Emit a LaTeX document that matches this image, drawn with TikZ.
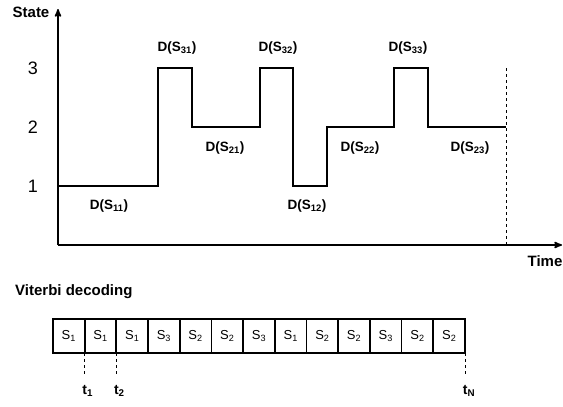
\documentclass[tikz,border=0pt]{standalone}
\usepackage{fontspec}
\setmainfont{Liberation Sans}
\usepackage{tikz}
\usetikzlibrary{positioning, arrows, calc}

\begin{document}
\begin{tikzpicture}[x=1pt, y=-1pt, >=stealth', ampersand replacement=\&,
  axislbl/.style={font=\fontsize{15}{18}\selectfont\bfseries, inner sep=0pt},
  lvl/.style={font=\fontsize{18}{20}\selectfont, inner sep=0pt},
  dur/.style={font=\fontsize{13.5}{16}\selectfont\bfseries, inner sep=0pt},
  tlbl/.style={font=\fontsize{14}{16}\selectfont\bfseries, inner sep=0pt, anchor=north},
  tick/.style={dashed, line width=0.9pt},
]
  \useasboundingbox (0,0) rectangle (563,407);

  % axes
  \coordinate (O) at (58,245);
  \coordinate (ytop) at (58,9);
  \coordinate (xend) at (562,245);
  \draw[->, line width=1.6pt] (O) -- (ytop);
  \draw[->, line width=1.6pt] (O) -- (xend);
  \node[axislbl] (state) at (31,12) {State};
  \node[axislbl] (time) at (545,261) {Time};

  \node[lvl] (l3) at (33,68) {3};
  \node[lvl] (l2) at (33,127) {2};
  \node[lvl] (l1) at (33,186) {1};

  % state sequence
  \draw[line width=1.1pt] (58,186) -| (158,68) -| (192,127) -| (260,68) -| (293,186)
    -| (327,127) -| (394,68) -| (428,127) -- (506,127);
  \coordinate (end3) at (506,68);
  \coordinate (end0) at (506,245);
  \draw[tick] (end3) -- (end0);

  \node[dur] (d11) at (109,206) {D(S\textsubscript{11})};
  \node[dur] (d31) at (177,48) {D(S\textsubscript{31})};
  \node[dur] (d21) at (225,148) {D(S\textsubscript{21})};
  \node[dur] (d32) at (278,48) {D(S\textsubscript{32})};
  \node[dur] (d12) at (307,206) {D(S\textsubscript{12})};
  \node[dur] (d22) at (360,148) {D(S\textsubscript{22})};
  \node[dur] (d33) at (408,48) {D(S\textsubscript{33})};
  \node[dur] (d23) at (470,148) {D(S\textsubscript{23})};

  % decoding
  \node[axislbl, anchor=west] (vit) at (15,292) {Viterbi decoding};

  \matrix[nodes={draw, line width=1.7pt, minimum width=31.7pt, minimum height=34pt,
    outer sep=0pt, inner sep=0pt, font=\fontsize{13}{15}\selectfont}, column sep=-1.7pt] (seq) at (259,336) {
    \node (b1) {S\textsubscript{1}}; \& \node (b2) {S\textsubscript{1}}; \&
    \node (b3) {S\textsubscript{1}}; \& \node (b4) {S\textsubscript{3}}; \&
    \node (b5) {S\textsubscript{2}}; \& \node (b6) {S\textsubscript{2}}; \&
    \node (b7) {S\textsubscript{3}}; \& \node (b8) {S\textsubscript{1}}; \&
    \node (b9) {S\textsubscript{2}}; \& \node (b10) {S\textsubscript{2}}; \&
    \node (b11) {S\textsubscript{3}}; \& \node (b12) {S\textsubscript{2}}; \&
    \node (b13) {S\textsubscript{2}}; \\
  };

  \coordinate[below=22pt of b1.south east] (e1);
  \coordinate[below=22pt of b2.south east] (e2);
  \coordinate[below=22pt of b13.south east] (eN);
  \draw[tick] (b1.south east) -- (e1);
  \draw[tick] (b2.south east) -- (e2);
  \draw[tick] (b13.south east) -- (eN);
  \node[tlbl] (t1) at ([xshift=3pt,yshift=-10pt]e1) {t\textsubscript{1}};
  \node[tlbl] (t2) at ([xshift=3pt,yshift=-10pt]e2) {t\textsubscript{2}};
  \node[tlbl] (tN) at ([xshift=4pt,yshift=-10pt]eN) {t\textsubscript{N}};
\end{tikzpicture}
\end{document}
